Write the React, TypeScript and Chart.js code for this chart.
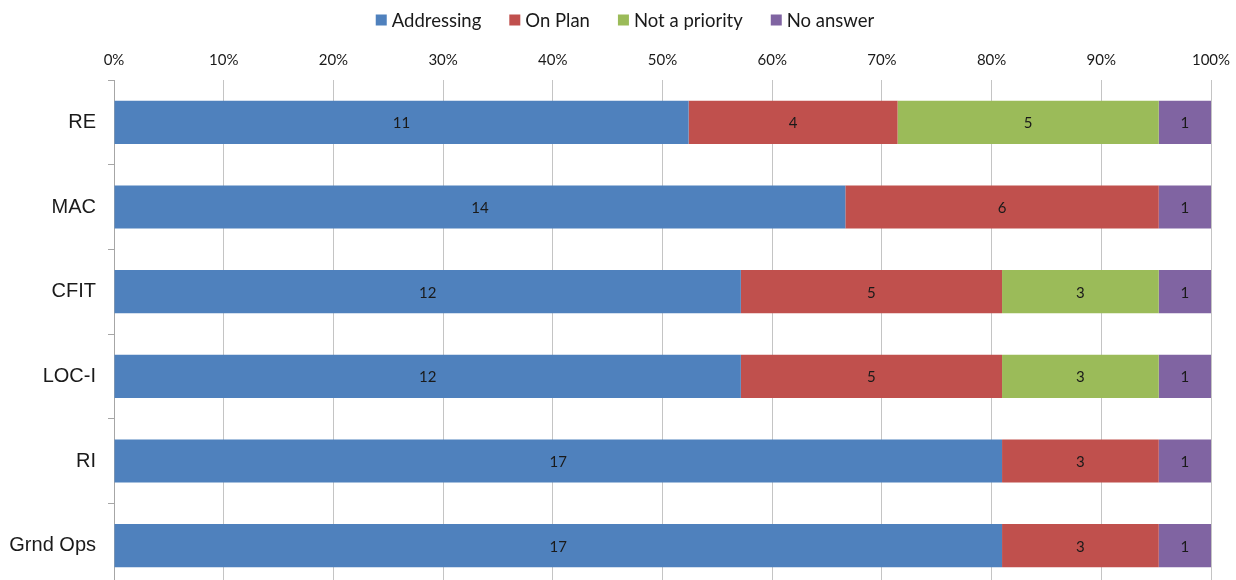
import React, { useEffect, useRef } from "react";
import { Chart, registerables } from "chart.js";

Chart.register(...registerables);

const categories = ["RE", "MAC", "CFIT", "LOC-I", "RI", "Grnd Ops"];
const seriesNames = ["Addressing", "On Plan", "Not a priority", "No answer"];
const addressing = [11, 14, 12, 12, 17, 17];
const onPlan = [4, 6, 5, 5, 3, 3];
const notPriority = [5, 0, 3, 3, 0, 0];
const noAnswer = [1, 1, 1, 1, 1, 1];
const seriesColors = ["#4F81BD", "#C0504D", "#9BBB59", "#8064A2"];
const xTicks = [0, 10, 20, 30, 40, 50, 60, 70, 80, 90, 100];

const counts = [addressing, onPlan, notPriority, noAnswer];
const totals = categories.map((_, i) => counts.reduce((s, arr) => s + arr[i], 0));

const FONT_SANS = "Lato, 'Liberation Sans', sans-serif";

const dataLabelPlugin = {
  id: "dataLabels",
  afterDatasetsDraw(chart: any) {
    const ctx = chart.ctx;
    ctx.save();
    ctx.font = "15px " + FONT_SANS;
    ctx.fillStyle = "#1a1a1a";
    ctx.textAlign = "center";
    ctx.textBaseline = "middle";
    chart.data.datasets.forEach((ds: any, di: number) => {
      const meta = chart.getDatasetMeta(di);
      meta.data.forEach((el: any, i: number) => {
        const c = ds.counts[i];
        if (!c) return;
        const p = el.getCenterPoint();
        ctx.fillText(String(c), p.x, p.y + 1);
      });
    });
    ctx.restore();
  },
};

const legendPlugin = {
  id: "customLegend",
  afterDraw(chart: any) {
    const ctx = chart.ctx;
    const box = 11;
    const gapText = 5;
    const gapItem = 28;
    const cy = 20;
    ctx.save();
    ctx.font = "18.5px " + FONT_SANS;
    ctx.textBaseline = "middle";
    ctx.textAlign = "left";
    const items = chart.data.datasets.map((ds: any) => ({
      label: ds.label,
      color: ds.backgroundColor,
      w: ctx.measureText(ds.label).width,
    }));
    const total =
      items.reduce((s: number, it: any) => s + box + gapText + it.w, 0) +
      gapItem * (items.length - 1);
    let x = (chart.width - total) / 2 + 7;
    items.forEach((it: any) => {
      ctx.fillStyle = it.color;
      ctx.fillRect(x, cy - box / 2, box, box);
      ctx.fillStyle = "#1a1a1a";
      ctx.fillText(it.label, x + box + gapText, cy + 1);
      x += box + gapText + it.w + gapItem;
    });
    ctx.restore();
  },
};

export default function App() {
  const ref = useRef<HTMLCanvasElement | null>(null);

  useEffect(() => {
    const canvas = ref.current;
    if (!canvas) return;
    const chart = new Chart(canvas, {
      type: "bar",
      data: {
        labels: categories,
        datasets: counts.map((arr, k) => ({
          label: seriesNames[k],
          data: arr.map((v, i) => (v / totals[i]) * 100),
          counts: arr,
          backgroundColor: seriesColors[k],
          borderWidth: 0,
          categoryPercentage: 1,
          barPercentage: 0.51,
        })) as any,
      },
      options: {
        indexAxis: "y",
        responsive: false,
        animation: false,
        devicePixelRatio: 1,
        layout: { padding: { left: 0, right: 25, top: 0, bottom: 2 } },
        plugins: {
          legend: { display: false },
          tooltip: { enabled: false },
        },
        scales: {
          x: {
            position: "top",
            stacked: true,
            min: 0,
            max: 100,
            afterBuildTicks(scale: any) {
              scale.ticks = xTicks.map((v) => ({ value: v }));
            },
            afterFit(scale: any) {
              scale.height = 80;
              scale.paddingLeft = 0;
              scale.paddingRight = 0;
            },
            ticks: {
              callback: (v: any) => v + "%",
              color: "#1a1a1a",
              padding: 11,
              font: { size: 15, family: FONT_SANS },
            },
            grid: { color: "#c4c4c4", lineWidth: 1, drawTicks: false },
            border: { display: false },
          },
          y: {
            stacked: true,
            afterFit(scale: any) {
              scale.width = 114;
              scale.paddingTop = 0;
              scale.paddingBottom = 0;
            },
            ticks: {
              color: "#1a1a1a",
              padding: 12,
              font: { size: 20, family: "'Liberation Sans', Arial, sans-serif" },
            },
            grid: {
              drawOnChartArea: false,
              drawTicks: true,
              tickLength: 6,
              color: "#a6a6a6",
              offset: true,
            },
            border: { display: true, color: "#a6a6a6", width: 1 },
          },
        },
      } as any,
      plugins: [dataLabelPlugin, legendPlugin],
    });
    return () => chart.destroy();
  }, []);

  return (
    <div
      style={{
        position: "fixed",
        left: 0,
        top: 0,
        width: 1236,
        height: 580,
        overflow: "hidden",
        background: "#fff",
      }}
    >
      <canvas ref={ref} width={1236} height={590} style={{ display: "block" }} />
    </div>
  );
}
